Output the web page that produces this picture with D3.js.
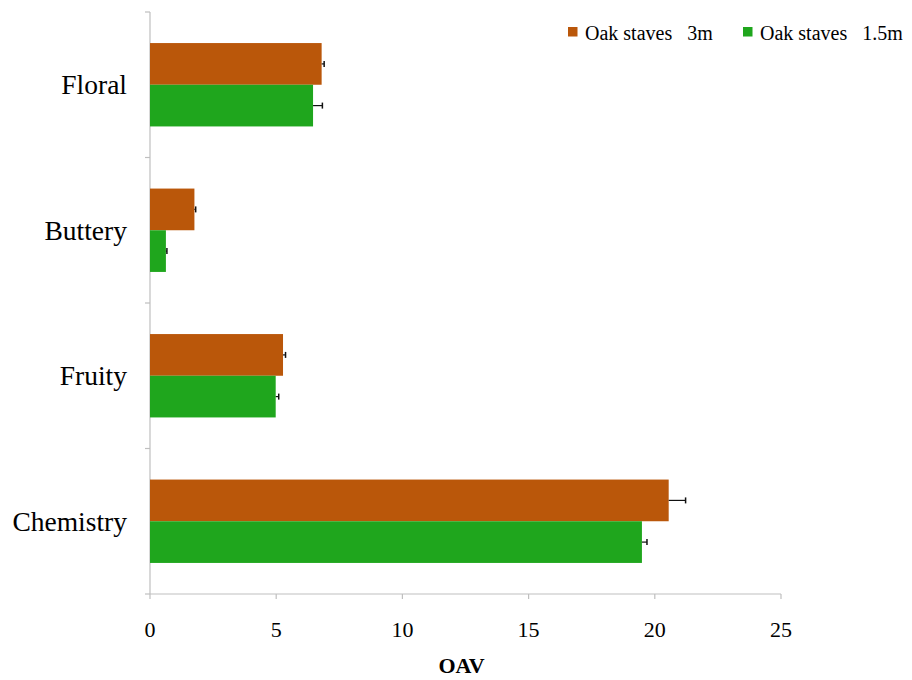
<!DOCTYPE html>
<html>
<head>
<meta charset="utf-8">
<script src="https://cdn.jsdelivr.net/npm/d3@7"></script>
<style>
  html, body { margin: 0; padding: 0; background: #fff; }
</style>
</head>
<body>
<svg id="chart" width="912" height="680" font-family="'Liberation Serif', 'Times New Roman', serif"></svg>
<script>
// Aroma series OAV by category
const categories = ["Floral", "Buttery", "Fruity", "Chemistry"];
const seriesLabels = ["Oak staves", "Oak staves"];
const seriesSuffix = ["3m", "1.5m"];
const values3m = [6.80, 1.76, 5.27, 20.55];
const errors3m = [0.10, 0.05, 0.10, 0.67];
const values15m = [6.46, 0.63, 4.98, 19.49];
const errors15m = [0.37, 0.04, 0.12, 0.20];
const xTicks = [0, 5, 10, 15, 20, 25];
const axisTitle = "OAV";

const colors = ["#BA570A", "#1FA61D"];
const series = [
  { label: seriesLabels[0], suffix: seriesSuffix[0], values: values3m, errors: errors3m, color: colors[0] },
  { label: seriesLabels[1], suffix: seriesSuffix[1], values: values15m, errors: errors15m, color: colors[1] }
];

const svg = d3.select("#chart");
const plot = { left: 150, right: 781, top: 12, bottom: 594 };

const x = d3.scaleLinear().domain([0, 25]).range([plot.left, plot.right]);
const y = d3.scaleBand().domain(categories).range([plot.top, plot.bottom]).paddingInner(0.427).paddingOuter(0.2135);
const ySub = d3.scaleBand().domain([0, 1]).range([0, y.bandwidth()]);

// Axis lines
const axisColor = "#bfbfbf";
svg.append("line").attr("x1", plot.left).attr("x2", plot.left).attr("y1", plot.top).attr("y2", plot.bottom)
  .attr("stroke", axisColor).attr("stroke-width", 1.2);
svg.append("line").attr("x1", plot.left).attr("x2", plot.right).attr("y1", plot.bottom).attr("y2", plot.bottom)
  .attr("stroke", axisColor).attr("stroke-width", 1.2);

// Category boundary ticks on the y axis
const step = y.step();
const boundaries = d3.range(categories.length + 1).map(i => plot.top + i * step);
svg.selectAll(".ytick").data(boundaries).join("line")
  .attr("x1", plot.left - 5).attr("x2", plot.left).attr("y1", d => d).attr("y2", d => d)
  .attr("stroke", axisColor).attr("stroke-width", 1.2);

// X ticks and labels
svg.selectAll(".xtick").data(xTicks).join("line")
  .attr("x1", d => x(d)).attr("x2", d => x(d)).attr("y1", plot.bottom).attr("y2", plot.bottom + 5)
  .attr("stroke", axisColor).attr("stroke-width", 1.2);
svg.selectAll(".xlabel").data(xTicks).join("text")
  .attr("x", d => x(d)).attr("y", 637).attr("text-anchor", "middle")
  .attr("font-size", 22).attr("fill", "#000").text(d => d);

// Category labels
svg.selectAll(".ylabel").data(categories).join("text")
  .attr("x", 127).attr("y", d => y(d) + y.bandwidth() / 2 + 9.5)
  .attr("text-anchor", "end").attr("font-size", 27.5).attr("fill", "#000").text(d => d);

// Bars with positive error bars
series.forEach((s, si) => {
  const g = svg.append("g");
  g.selectAll("rect").data(categories).join("rect")
    .attr("x", x(0))
    .attr("y", (c) => y(c) + ySub(si))
    .attr("width", (c, i) => x(s.values[i]) - x(0))
    .attr("height", ySub.bandwidth())
    .attr("fill", s.color);
  categories.forEach((c, i) => {
    const cy = y(c) + ySub(si) + ySub.bandwidth() / 2;
    const x0 = x(s.values[i]), x1 = x(s.values[i] + s.errors[i]);
    g.append("line").attr("x1", x0).attr("x2", x1).attr("y1", cy).attr("y2", cy)
      .attr("stroke", "#111").attr("stroke-width", 1.2);
    g.append("line").attr("x1", x1).attr("x2", x1).attr("y1", cy - 3).attr("y2", cy + 3)
      .attr("stroke", "#111").attr("stroke-width", 1.5);
  });
});

// Axis title
svg.append("text").attr("x", x(12.5) - 4).attr("y", 673).attr("text-anchor", "middle")
  .attr("font-size", 22).attr("font-weight", "bold").attr("fill", "#000").text(axisTitle);

// Legend
const legendPos = [568, 743];
series.forEach((s, si) => {
  svg.append("rect").attr("x", legendPos[si]).attr("y", 27).attr("width", 9.5).attr("height", 9.5)
    .attr("fill", s.color);
  const t = svg.append("text").attr("x", legendPos[si] + 17).attr("y", 40)
    .attr("font-size", 20).attr("fill", "#000");
  t.append("tspan").text(s.label);
  t.append("tspan").attr("dx", 15).text(s.suffix);
});
</script>
</body>
</html>
